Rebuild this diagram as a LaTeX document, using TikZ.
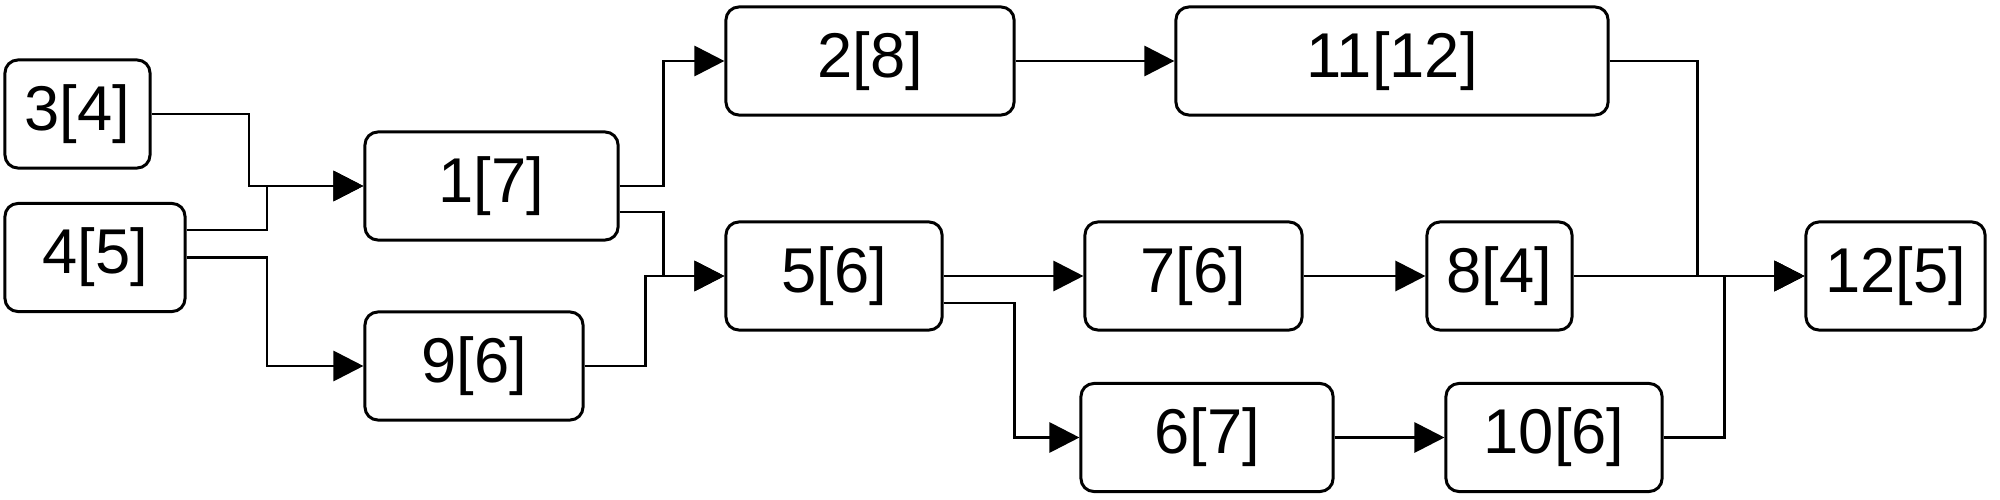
\documentclass[tikz,border=0pt]{standalone}
\usepackage{fontspec}
\setmainfont{Liberation Sans}
\usetikzlibrary{arrows.meta}
\begin{document}
\begin{tikzpicture}[x=0.01cm,y=-0.01cm,
  box/.style={draw=black,line width=0.85pt,rounded corners=0.13cm,minimum height=1.08cm,inner sep=0pt,font=\fontsize{18}{20}\selectfont},
  conn/.style={draw=black,line width=0.85pt,-{Triangle[length=0.3cm,width=0.3cm]}}]
\useasboundingbox[fill=white] (0,0) rectangle (2000,500);
\node[box,minimum width=1.45cm] (n3) at (77.5,114) {3[4]};
\node[box,minimum width=1.80cm] (n4) at (95,257.5) {4[5]};
\node[box,minimum width=2.53cm] (n1) at (491.5,186) {1[7]};
\node[box,minimum width=2.18cm] (n9) at (474,366) {9[6]};
\node[box,minimum width=2.88cm] (n2) at (870,61) {2[8]};
\node[box,minimum width=4.32cm] (n11) at (1392,61) {11[12]};
\node[box,minimum width=2.16cm] (n5) at (834,276) {5[6]};
\node[box,minimum width=2.17cm] (n7) at (1193.5,276) {7[6]};
\node[box,minimum width=1.45cm] (n8) at (1499.5,276) {8[4]};
\node[box,minimum width=2.52cm] (n6) at (1207,437.5) {6[7]};
\node[box,minimum width=2.16cm] (n10) at (1554,437.5) {10[6]};
\node[box,minimum width=1.79cm] (n12) at (1895.5,276) {12[5]};
% helper coordinates
\coordinate (ja) at (249,186);
\coordinate (jb) at (267,186);
\coordinate (jc) at (267,366);
\coordinate (ya) at (0,230);
\coordinate (jd) at (663,61);
\coordinate (je) at (663,276);
\coordinate (yb) at (0,212);
\coordinate (jf) at (645,276);
\coordinate (yc) at (0,303);
\coordinate (jg) at (1014,437.5);
\coordinate (jh) at (1697,276);
\coordinate (ji) at (1724,276);
% connectors
\draw[conn] (n3.east) -| (ja) -- (n1.west);
\draw[conn] (n4.east |- ya) -| (jb) -- (n1.west);
\draw[conn] (n4.east) -| (jc) -- (n9.west);
\draw[conn] (n1.east) -| (jd) -- (n2.west);
\draw[conn] (n1.east |- yb) -| (je) -- (n5.west);
\draw[conn] (n9.east) -| (jf) -- (n5.west);
\draw[conn] (n2.east) -- (n11.west);
\draw[conn] (n5.east) -- (n7.west);
\draw[conn] (n5.east |- yc) -| (jg) -- (n6.west);
\draw[conn] (n7.east) -- (n8.west);
\draw[conn] (n6.east) -- (n10.west);
\draw[conn] (n11.east) -| (jh) -- (n12.west);
\draw[conn] (n8.east) -- (n12.west);
\draw[conn] (n10.east) -| (ji) -- (n12.west);
\end{tikzpicture}
\end{document}
